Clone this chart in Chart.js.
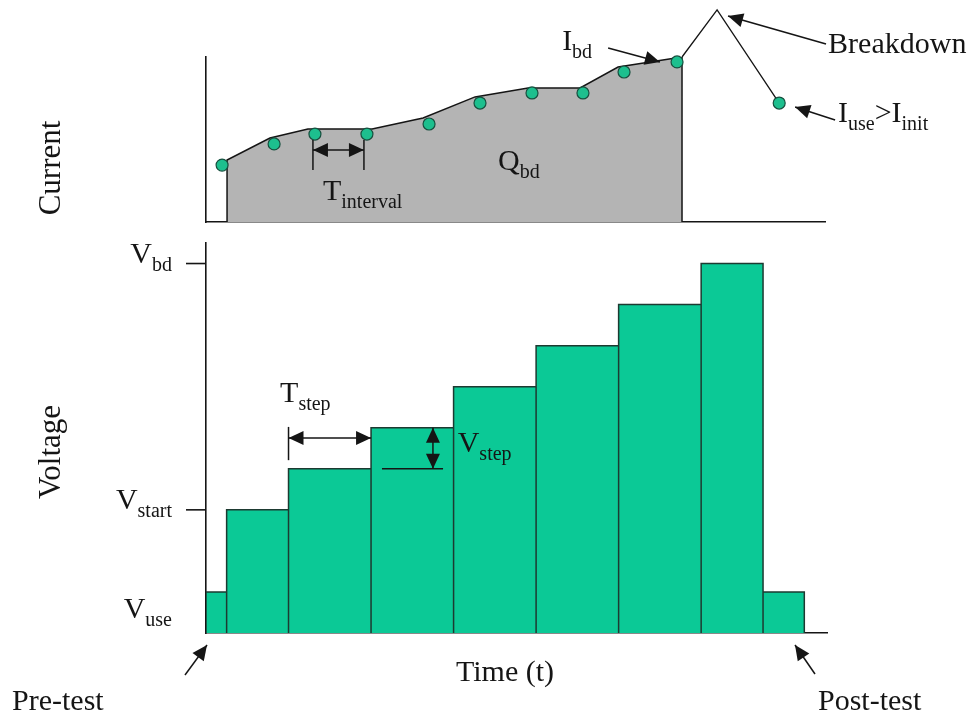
<!DOCTYPE html>
<html>
<head>
<meta charset="utf-8">
<title>Ramped voltage stress test</title>
<script src="https://cdn.jsdelivr.net/npm/chart.js@4.4.1/dist/chart.umd.min.js"></script>
<style>
  html, body { margin: 0; padding: 0; background: #fff; }
  #wrap { position: relative; width: 974px; height: 716px; }
  #wrap canvas { position: absolute; left: 0; top: 0; }
</style>
</head>
<body>
<div id="wrap">
  <canvas id="voltageChart" width="974" height="716"></canvas>
  <canvas id="currentChart" width="974" height="716"></canvas>
</div>
<script>
// step boundaries (time units) and the voltage held during each step
const stepEdges = [0, 1, 4, 8, 12, 16, 20, 24, 27, 29];
const stepVoltages = [1, 3, 4, 5, 6, 7, 8, 9, 1];

// named levels on the voltage axis
const voltageTickNames = ["bd", "start", "use"];
const voltageTickValues = [9, 3, 1];
const voltageTickMarked = [true, true, false];

// upper edge of the shaded charge area (Q_bd)
const envelopeTimes = [1.02, 3.10, 4.94, 8.05, 10.52, 13.04, 15.61, 18.13, 19.97, 23.07];
const envelopeCurrents = [3.76, 5.09, 5.64, 5.64, 6.30, 7.58, 8.12, 8.12, 9.39, 10.0];

// current readings; the last two are the breakdown spike and the post-test reading
const sampleTimes = [0.78, 3.30, 5.28, 7.80, 10.81, 13.28, 15.80, 18.27, 20.26, 22.83, 24.77, 27.78];
const sampleCurrents = [3.45, 4.73, 5.33, 5.33, 5.94, 7.21, 7.82, 7.82, 9.09, 9.70, 12.85, 7.21];

const SERIF = '"Liberation Serif", "Times New Roman", serif';
const INK = "#151515";

function stepOutline() {
  const pts = [];
  stepVoltages.forEach((v, i) => {
    pts.push(
      { x: stepEdges[i], y: 0 },
      { x: stepEdges[i], y: v },
      { x: stepEdges[i + 1], y: v },
      { x: stepEdges[i + 1], y: 0 }
    );
  });
  return pts;
}

function envelopeOutline() {
  const pts = envelopeTimes.map((t, i) => ({ x: t, y: envelopeCurrents[i] }));
  const first = envelopeTimes[0];
  const last = envelopeTimes[envelopeTimes.length - 1];
  return [{ x: first, y: 0 }, ...pts, { x: last, y: 0 }];
}

function breakdownTail() {
  const n = sampleTimes.length;
  return [
    { x: envelopeTimes[envelopeTimes.length - 1], y: envelopeCurrents[envelopeCurrents.length - 1] },
    { x: sampleTimes[n - 2], y: sampleCurrents[n - 2] },
    { x: sampleTimes[n - 1], y: sampleCurrents[n - 1] }
  ];
}

function axisOptions(min, max) {
  return {
    type: "linear",
    min,
    max,
    grid: { display: false, drawTicks: false },
    ticks: { display: false },
    border: { display: true, color: INK, width: 1.6 }
  };
}

// text with optional subscripts: parts = [[text, isSub], ...], (x, y) = main baseline
function drawParts(ctx, x, y, parts, align = "left") {
  ctx.save();
  ctx.fillStyle = INK;
  ctx.textBaseline = "alphabetic";
  ctx.textAlign = "left";
  const fontFor = sub => (sub ? "20px " : "30px ") + SERIF;
  const widths = parts.map(([t, sub]) => {
    ctx.font = fontFor(sub);
    return ctx.measureText(t).width;
  });
  const total = widths.reduce((a, b) => a + b, 0);
  let cx = align === "right" ? x - total : align === "center" ? x - total / 2 : x;
  parts.forEach(([t, sub], i) => {
    ctx.font = fontFor(sub);
    ctx.fillText(t, cx, sub ? y + 8 : y);
    cx += widths[i];
  });
  ctx.restore();
}

function drawRotated(ctx, x, y, text) {
  ctx.save();
  ctx.translate(x, y);
  ctx.rotate(-Math.PI / 2);
  ctx.fillStyle = INK;
  ctx.font = "31px " + SERIF;
  ctx.textAlign = "center";
  ctx.textBaseline = "alphabetic";
  ctx.fillText(text, 0, 0);
  ctx.restore();
}

function line(ctx, x1, y1, x2, y2, width = 1.5) {
  ctx.save();
  ctx.strokeStyle = INK;
  ctx.lineWidth = width;
  ctx.beginPath();
  ctx.moveTo(x1, y1);
  ctx.lineTo(x2, y2);
  ctx.stroke();
  ctx.restore();
}

function arrowHead(ctx, fromX, fromY, tipX, tipY, len = 15, half = 7) {
  const a = Math.atan2(tipY - fromY, tipX - fromX);
  ctx.save();
  ctx.fillStyle = INK;
  ctx.beginPath();
  ctx.moveTo(tipX, tipY);
  ctx.lineTo(tipX - len * Math.cos(a) + half * Math.sin(a), tipY - len * Math.sin(a) - half * Math.cos(a));
  ctx.lineTo(tipX - len * Math.cos(a) - half * Math.sin(a), tipY - len * Math.sin(a) + half * Math.cos(a));
  ctx.closePath();
  ctx.fill();
  ctx.restore();
}

function arrow(ctx, x1, y1, x2, y2) {
  line(ctx, x1, y1, x2, y2);
  arrowHead(ctx, x1, y1, x2, y2);
}

function doubleArrow(ctx, x1, y1, x2, y2) {
  line(ctx, x1, y1, x2, y2);
  arrowHead(ctx, x1, y1, x2, y2);
  arrowHead(ctx, x2, y2, x1, y1);
}

const voltageNotes = {
  id: "voltageNotes",
  afterDatasetsDraw(chart) {
    const { ctx, chartArea } = chart;
    const xs = chart.scales.x;
    const ys = chart.scales.y;
    const X = t => xs.getPixelForValue(t);
    const Y = v => ys.getPixelForValue(v);

    // named voltage levels
    voltageTickNames.forEach((name, i) => {
      const y = Y(voltageTickValues[i]);
      if (voltageTickMarked[i]) {
        line(ctx, chartArea.left - 20, y, chartArea.left, y, 1.6);
        drawParts(ctx, chartArea.left - 34, y - 1, [["V", false], [name, true]], "right");
      } else {
        drawParts(ctx, chartArea.left - 34, y + 26, [["V", false], [name, true]], "right");
      }
    });

    // step duration
    line(ctx, X(stepEdges[2]), Y(5.02), X(stepEdges[2]), Y(4.21));
    doubleArrow(ctx, X(stepEdges[2]), Y(4.75), X(stepEdges[3]), Y(4.75));
    drawParts(ctx, X(3.59), Y(5.63), [["T", false], ["step", true]]);

    // step height
    line(ctx, X(8.53), Y(stepVoltages[2]), X(11.49), Y(stepVoltages[2]));
    doubleArrow(ctx, X(11.0), Y(stepVoltages[3]), X(11.0), Y(stepVoltages[2]));
    drawParts(ctx, X(12.2), Y(4.41), [["V", false], ["step", true]]);

    // pre / post test markers
    arrow(ctx, 185, 675, X(stepEdges[0]) + 1, chartArea.bottom + 12);
    arrow(ctx, 815, 674, X(28.55), chartArea.bottom + 12);
    drawParts(ctx, 12, 710, [["Pre-test", false]]);
    drawParts(ctx, 818, 710, [["Post-test", false]]);
    drawParts(ctx, 505, 681, [["Time (t)", false]], "center");

    drawRotated(ctx, 60, 452, "Voltage");
  }
};

const currentNotes = {
  id: "currentNotes",
  afterDatasetsDraw(chart) {
    const { ctx } = chart;
    const xs = chart.scales.x;
    const ys = chart.scales.y;
    const X = t => xs.getPixelForValue(t);
    const Y = v => ys.getPixelForValue(v);

    // sampling interval between two readings
    const ta = sampleTimes[2];
    const tb = sampleTimes[3];
    line(ctx, X(ta) - 2, Y(sampleCurrents[2]) + 6, X(ta) - 2, Y(3.15));
    line(ctx, X(tb) - 3, Y(sampleCurrents[3]) + 6, X(tb) - 3, Y(3.15));
    doubleArrow(ctx, X(ta) - 2, Y(4.36), X(tb) - 3, Y(4.36));
    drawParts(ctx, X(5.67), Y(1.33), [["T", false], ["interval", true]]);

    drawParts(ctx, X(14.15), Y(3.15), [["Q", false], ["bd", true]]);

    drawParts(ctx, X(17.26), Y(10.42), [["I", false], ["bd", true]]);
    arrow(ctx, X(19.49), Y(10.55), X(22.0), Y(9.7));

    drawParts(ctx, X(30.15), Y(10.24), [["Breakdown", false]]);
    arrow(ctx, X(30.05), Y(10.79), X(25.3), Y(12.48));

    drawParts(ctx, X(30.63), Y(6.06), [["I", false], ["use", true], [">", false], ["I", false], ["init", true]]);
    arrow(ctx, X(30.49), Y(6.18), X(28.55), Y(6.97));

    drawRotated(ctx, 60, 168, "Current");
  }
};

new Chart(document.getElementById("voltageChart"), {
  type: "line",
  data: {
    datasets: [
      {
        data: stepOutline(),
        borderColor: "#1d3a31",
        borderWidth: 1.5,
        backgroundColor: "#0bc996",
        fill: "origin",
        pointRadius: 0,
        tension: 0
      }
    ]
  },
  options: {
    responsive: false,
    animation: false,
    devicePixelRatio: 1,
    layout: { padding: { left: 206, top: 243, right: 147, bottom: 83 } },
    plugins: { legend: { display: false }, tooltip: { enabled: false } },
    scales: {
      x: axisOptions(0, 30.1),
      y: axisOptions(0, 9.5)
    }
  },
  plugins: [voltageNotes]
});

new Chart(document.getElementById("currentChart"), {
  type: "line",
  data: {
    datasets: [
      {
        data: envelopeOutline(),
        borderColor: INK,
        borderWidth: 1.5,
        backgroundColor: "#b4b4b4",
        fill: "origin",
        pointRadius: 0,
        tension: 0,
        order: 3
      },
      {
        data: breakdownTail(),
        borderColor: INK,
        borderWidth: 1.3,
        fill: false,
        pointRadius: 0,
        tension: 0,
        clip: false,
        order: 2
      },
      {
        data: sampleTimes.map((t, i) => ({ x: t, y: sampleCurrents[i] })),
        showLine: false,
        pointRadius: 6,
        pointBackgroundColor: "#1dbf8e",
        pointBorderColor: "#17503f",
        pointBorderWidth: 1.2,
        clip: false,
        order: 1
      }
    ]
  },
  options: {
    responsive: false,
    animation: false,
    devicePixelRatio: 1,
    layout: { padding: { left: 206, top: 57, right: 149, bottom: 494 } },
    plugins: { legend: { display: false }, tooltip: { enabled: false } },
    scales: {
      x: axisOptions(0, 30.0),
      y: axisOptions(0, 10)
    }
  },
  plugins: [currentNotes]
});
</script>
</body>
</html>
